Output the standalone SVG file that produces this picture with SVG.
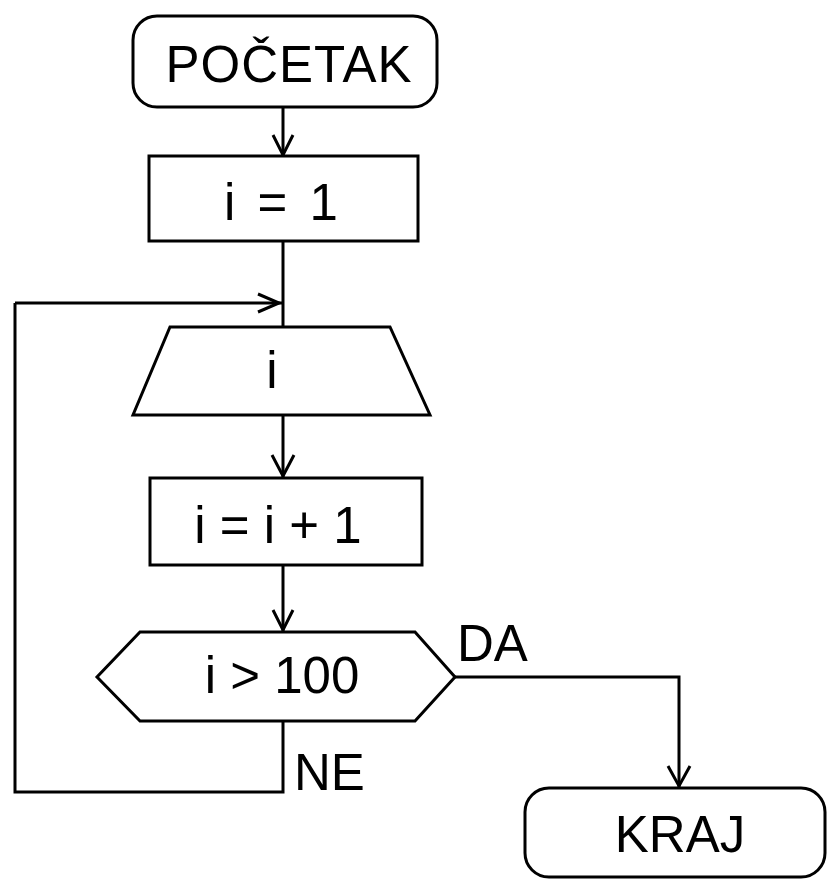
<svg xmlns="http://www.w3.org/2000/svg" width="827" height="879" viewBox="0 0 827 879">
<style>
.s{fill:#fff;stroke:#000;stroke-width:3}
.c{fill:none;stroke:#000;stroke-width:3}
.t{font-family:"Liberation Sans",Arial,sans-serif;font-size:51px;fill:#000}
.m{text-anchor:middle}
</style>
<rect width="827" height="879" fill="#fff"/>
<g id="connectors">
<line class="c" x1="283" y1="107" x2="283" y2="156"/>
<polyline class="c" points="273,135 283,155 293,135"/>
<line class="c" x1="283" y1="241" x2="283" y2="327"/>
<polyline class="c" points="15,303 282,303"/>
<polyline class="c" points="258,294 279,303 258,312"/>
<line class="c" x1="283" y1="415" x2="283" y2="478"/>
<polyline class="c" points="272,455 283,476 294,455"/>
<line class="c" x1="283" y1="565" x2="283" y2="632"/>
<polyline class="c" points="273,610 283,630 293,610"/>
<polyline class="c" points="455,677 679,677 679,788"/>
<polyline class="c" points="668,766 679,786 690,766"/>
<polyline class="c" points="283,721 283,792 15,792 15,303"/>
<text class="t" x="457" y="661">DA</text>
<text class="t" x="294" y="790">NE</text>
</g>
<g id="start">
<rect class="s" x="133" y="16" width="304" height="91" rx="24" ry="24"/>
<text class="t m" x="289" y="82" letter-spacing="1">POČETAK</text>
</g>
<g id="init">
<rect class="s" x="149" y="156" width="269" height="85"/>
<text class="t m" x="281" y="220" word-spacing="8">i = 1</text>
</g>
<g id="output">
<polygon class="s" points="170,327 390,327 430,415 133,415"/>
<text class="t m" x="272" y="388">i</text>
</g>
<g id="increment">
<rect class="s" x="150" y="478" width="272" height="87"/>
<text class="t m" x="278" y="543">i = i + 1</text>
</g>
<g id="decision">
<polygon class="s" points="140,632 415,632 455,677 415,721 140,721 97,677"/>
<text class="t m" x="282" y="693">i &gt; 100</text>
</g>
<g id="end">
<rect class="s" x="525" y="788" width="300" height="89" rx="24" ry="24"/>
<text class="t m" x="680" y="852">KRAJ</text>
</g>
</svg>
